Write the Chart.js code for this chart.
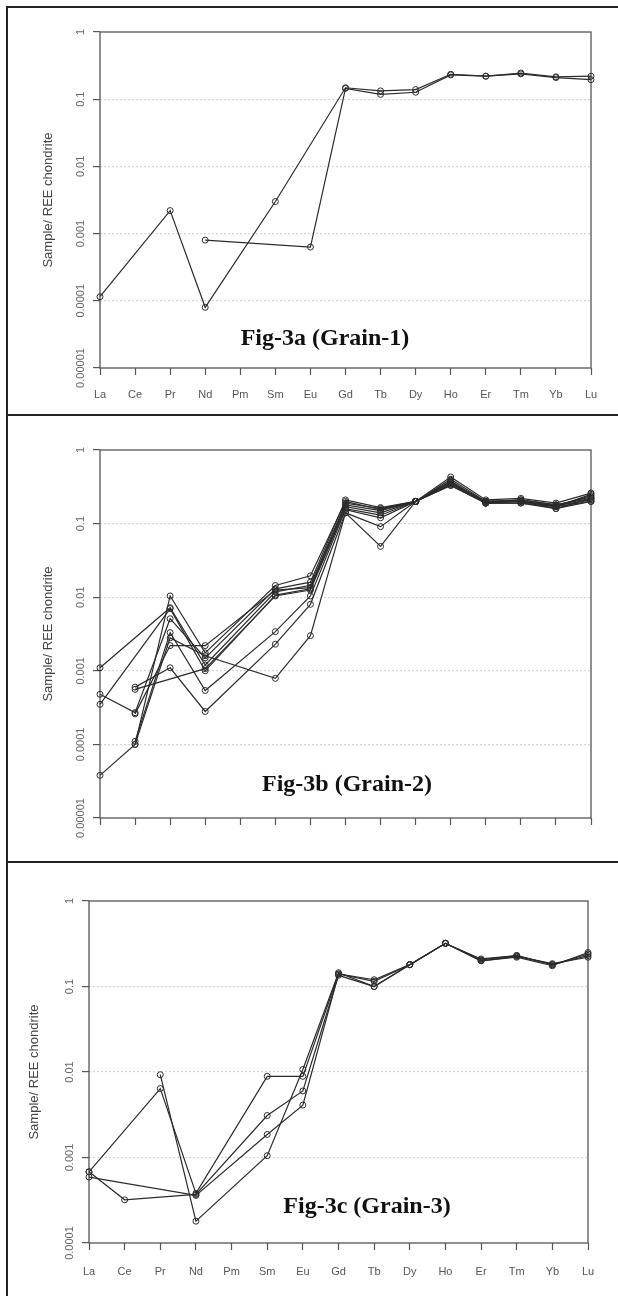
<!DOCTYPE html>
<html>
<head>
<meta charset="utf-8">
<script src="https://cdn.jsdelivr.net/npm/chart.js@4.4.1/dist/chart.umd.min.js"></script>
<style>
    body { margin: 0; width: 618px; height: 1296px; overflow: hidden; background: #fff; position: relative; }
    canvas { position: absolute; }
    .rule { position: absolute; background: #222; }
    .fig { position: absolute; transform: translate(-50%, -50%); font: bold 24px "Liberation Serif", "Times New Roman", serif; color: #111; white-space: nowrap; }
</style>
</head>
<body>

<div class="rule" style="left:6px; top:6px; width:2px; height:1290px;"></div>
<div class="rule" style="left:6px; top:6px; width:612px; height:2px;"></div>
<div class="rule" style="left:6px; top:414px; width:612px; height:2px;"></div>
<div class="rule" style="left:6px; top:861px; width:612px; height:2px;"></div>

<canvas id="grain1" width="610" height="406" style="left:8px; top:8px;"></canvas>
<canvas id="grain2" width="610" height="445" style="left:8px; top:416px;"></canvas>
<canvas id="grain3" width="610" height="433" style="left:8px; top:863px;"></canvas>

<div class="fig" style="left:325px; top:337px;">Fig-3a (Grain-1)</div>
<div class="fig" style="left:347px; top:783px;">Fig-3b (Grain-2)</div>
<div class="fig" style="left:367px; top:1205px;">Fig-3c (Grain-3)</div>

<script>
// DATA
const elements = ["La", "Ce", "Pr", "Nd", "Pm", "Sm", "Eu", "Gd", "Tb", "Dy", "Ho", "Er", "Tm", "Yb", "Lu"];

const yTicks5 = [1, 0.1, 0.01, 0.001, 0.0001, 0.00001];
const yLabels5 = ["1", "0.1", "0.01", "0.001", "0.0001", "0.00001"];
const yTicks4 = [1, 0.1, 0.01, 0.001, 0.0001];
const yLabels4 = ["1", "0.1", "0.01", "0.001", "0.0001"];

// Grain-1
const g1a = [1.15e-4, null, 2.2e-3, 8.0e-5, null, 3.0e-3, null, 0.148, 0.133, 0.139, 0.235, 0.22, 0.245, 0.215, 0.22];
const g1b = [null, null, null, 8.0e-4, null, null, 6.3e-4, 0.145, 0.118, 0.127, 0.23, 0.22, 0.238, 0.21, 0.195];

// Grain-2
const g2a = [1.1e-3, null, 7.2e-3, 1.2e-3, null, 0.0118, 0.0145, 0.19, 0.16, 0.2, 0.36, 0.2, 0.21, 0.18, 0.22];
const g2b = [4.8e-4, 2.7e-4, 5.1e-3, 1.5e-3, null, 0.013, 0.016, 0.21, 0.165, 0.2, 0.4, 0.2, 0.2, 0.17, 0.24];
const g2c = [3.5e-4, null, 7.0e-3, 1.0e-3, null, 0.0107, 0.013, 0.17, 0.14, 0.2, 0.33, 0.19, 0.19, 0.17, 0.2];
const g2d = [3.8e-5, 1.0e-4, 0.0104, 1.75e-3, null, 0.0144, 0.0195, 0.2, 0.155, 0.2, 0.43, 0.21, 0.22, 0.19, 0.26];
const g2e = [null, 1.1e-4, 3.3e-3, 5.4e-4, null, 3.4e-3, 0.0104, 0.155, 0.12, 0.2, 0.37, 0.19, 0.2, 0.175, 0.21];
const g2f = [null, 6.0e-4, 1.1e-3, 2.8e-4, null, 2.3e-3, 8.0e-3, 0.14, 0.091, 0.2, 0.35, 0.2, 0.2, 0.16, 0.22];
const g2g = [null, 5.6e-4, null, 1.07e-3, null, 0.0104, 0.0125, 0.16, 0.13, 0.2, 0.38, 0.19, 0.21, 0.18, 0.23];
const g2h = [null, 2.6e-4, 2.2e-3, 2.2e-3, null, 0.0125, 0.0135, 0.18, 0.15, 0.2, 0.34, 0.2, 0.2, 0.17, 0.25];
const g2i = [null, 1.0e-4, 2.8e-3, 1.6e-3, null, 7.9e-4, 3.0e-3, 0.14, 0.049, 0.2, 0.33, 0.19, 0.19, 0.16, 0.2];

// Grain-3
const g3a = [6.8e-4, null, 6.4e-3, 3.8e-4, null, 8.9e-3, 8.9e-3, 0.14, 0.12, 0.18, 0.32, 0.21, 0.23, 0.18, 0.24];
const g3b = [6.8e-4, 3.2e-4, null, 3.7e-4, null, 3.1e-3, 6.0e-3, 0.135, 0.1, 0.18, 0.32, 0.2, 0.225, 0.185, 0.22];
const g3c = [5.9e-4, null, null, 3.6e-4, null, 1.86e-3, 4.1e-3, 0.14, 0.115, 0.18, 0.32, 0.205, 0.23, 0.18, 0.23];
const g3d = [null, null, 9.3e-3, 1.8e-4, null, 1.05e-3, 0.0107, 0.145, 0.1, 0.18, 0.32, 0.2, 0.22, 0.175, 0.25];

const FONT = '"Liberation Sans", Arial, sans-serif';

// box round the plot + rotated y tick labels
const framePlugin = {
    id: "frame",
    beforeDatasetsDraw(chart) {
        const { ctx, chartArea: a } = chart;
        ctx.save();
        ctx.strokeStyle = "#555";
        ctx.lineWidth = 1.3;
        ctx.strokeRect(a.left, a.top, a.right - a.left, a.bottom - a.top);
        ctx.restore();
    },
    afterDraw(chart) {
        const { ctx, chartArea: a, scales } = chart;
        const labels = chart.options.plugins.frame.labels;
        ctx.save();
        ctx.fillStyle = "#666";
        ctx.font = "11px " + FONT;
        ctx.textAlign = "center";
        ctx.textBaseline = "middle";
        scales.y.ticks.forEach((t, i) => {
            const py = scales.y.getPixelForValue(t.value);
            ctx.save();
            ctx.translate(a.left - 19, py);
            ctx.rotate(-Math.PI / 2);
            ctx.fillText(labels[i], 0, 0);
            ctx.restore();
        });
        ctx.restore();
    }
};

function series(list) {
    return list.map(d => ({
        data: d,
        borderColor: "#2b2b2b",
        borderWidth: 1.2,
        pointRadius: 3,
        pointBorderColor: "#2b2b2b",
        pointBorderWidth: 1,
        pointBackgroundColor: "rgba(255,255,255,0)",
        spanGaps: true,
        tension: 0,
        clip: false
    }));
}

function makePanel(id, cfg) {
    return new Chart(document.getElementById(id), {
        type: "line",
        data: { labels: elements, datasets: series(cfg.sets) },
        plugins: [framePlugin],
        options: {
            responsive: false,
            animation: false,
            events: [],
            layout: { padding: { left: 0, top: cfg.top, right: cfg.right, bottom: 0 } },
            plugins: {
                legend: { display: false },
                tooltip: { enabled: false },
                frame: { labels: cfg.labels }
            },
            scales: {
                x: {
                    type: "category",
                    offset: false,
                    grid: { display: true, drawOnChartArea: false, drawTicks: true, tickLength: 7, tickColor: "#555", tickWidth: 1.2 },
                    border: { display: false },
                    ticks: { display: cfg.xLabels, autoSkip: false, maxRotation: 0, padding: cfg.xPad, color: "#555", font: { size: 11, family: FONT } },
                    afterFit: s => { s.height = cfg.xHeight; }
                },
                y: {
                    type: "logarithmic",
                    min: cfg.ticks[cfg.ticks.length - 1],
                    max: 1,
                    afterBuildTicks: s => { s.ticks = cfg.ticks.map(v => ({ value: v })); },
                    grid: {
                        color: c => (c.tick && (c.tick.value === 1 || c.tick.value === cfg.ticks[cfg.ticks.length - 1])) ? "rgba(0,0,0,0)" : "#d6d6d6",
                        lineWidth: 1.2,
                        drawTicks: true,
                        tickLength: 7,
                        tickColor: "#555",
                        tickWidth: 1.2
                    },
                    border: { display: false, dash: [2, 2] },
                    ticks: { display: false },
                    title: {
                        display: true,
                        text: "Sample/ REE chondrite",
                        color: "#444",
                        font: { size: 13, family: FONT },
                        padding: { top: cfg.titlePad, bottom: 0 }
                    },
                    afterFit: s => { s.width = cfg.yWidth; }
                }
            }
        }
    });
}

// PANELS
makePanel("grain1", {
    sets: [g1a, g1b], ticks: yTicks5, labels: yLabels5,
    top: 24, right: 27, yWidth: 92, xHeight: 46, xPad: 13, xLabels: true, titlePad: 33
});

makePanel("grain2", {
    sets: [g2a, g2b, g2c, g2d, g2e, g2f, g2g, g2h, g2i], ticks: yTicks5, labels: yLabels5,
    top: 34, right: 27, yWidth: 92, xHeight: 43, xPad: 13, xLabels: false, titlePad: 33
});

makePanel("grain3", {
    sets: [g3a, g3b, g3c, g3d], ticks: yTicks4, labels: yLabels4,
    top: 38, right: 30, yWidth: 81, xHeight: 53, xPad: 15, xLabels: true, titlePad: 19
});
</script>
</body>
</html>
